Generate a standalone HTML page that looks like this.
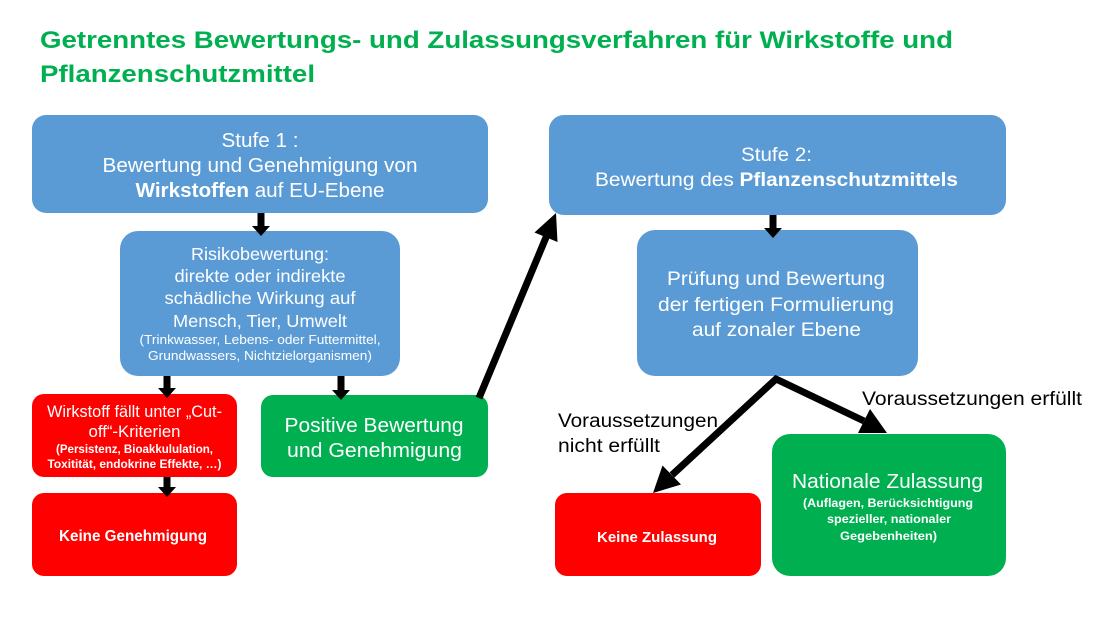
<!DOCTYPE html>
<html><head><meta charset="utf-8"><style>
html,body{margin:0;padding:0;background:#fff;}
svg{display:block;}
text{font-family:"Liberation Sans",Arial,sans-serif;}
.w{fill:#fff;}
.b{font-weight:bold;}
</style></head><body>
<svg width="1110" height="625" viewBox="0 0 1110 625" xmlns="http://www.w3.org/2000/svg">
<rect width="1110" height="625" fill="#fff"/>
<!-- Title -->
<text x="40" y="48" font-size="24" font-weight="bold" fill="#00B050" textLength="913" lengthAdjust="spacingAndGlyphs">Getrenntes Bewertungs- und Zulassungsverfahren für Wirkstoffe und</text>
<text x="40" y="82" font-size="24" font-weight="bold" fill="#00B050" textLength="275" lengthAdjust="spacingAndGlyphs">Pflanzenschutzmittel</text>

<!-- Boxes -->
<rect x="32" y="115" width="456" height="98" rx="14" fill="#5B9BD5"/>
<rect x="120" y="231" width="280" height="145" rx="18" fill="#5B9BD5"/>
<rect x="32" y="394" width="205" height="83" rx="12" fill="#FF0000"/>
<rect x="261" y="395" width="227" height="82" rx="12" fill="#00B050"/>
<rect x="32" y="493" width="205" height="83" rx="12" fill="#FF0000"/>
<rect x="549" y="115" width="457" height="100" rx="15" fill="#5B9BD5"/>
<rect x="637" y="230" width="281" height="146" rx="18" fill="#5B9BD5"/>
<rect x="555" y="493" width="206" height="83" rx="12" fill="#FF0000"/>
<rect x="772" y="434" width="234" height="142" rx="18" fill="#00B050"/>

<!-- Small down arrows -->
<g fill="#000">
<polygon points="257.5,213 264.5,213 264.5,226 270,226 261,236 252,226 257.5,226"/>
<polygon points="769.5,215 776.5,215 776.5,228 782,228 773,238 764,228 769.5,228"/>
<polygon points="163.5,376 170.5,376 170.5,388 176,388 167,398 158,388 163.5,388"/>
<polygon points="337.5,376 344.5,376 344.5,390 350,390 341,400 332,390 337.5,390"/>
<polygon points="163.5,477 170.5,477 170.5,487 176,487 167,497 158,487 163.5,487"/>
</g>

<!-- Diagonal arrow -->
<line x1="479" y1="398" x2="547" y2="235" stroke="#000" stroke-width="7"/>
<polygon points="556,213 557.5,242 534.5,232.5" fill="#000"/>

<!-- Fork arrows -->
<polyline points="672,475 776,379 864,421" fill="none" stroke="#000" stroke-width="7" stroke-linejoin="miter"/>
<polygon points="653,493 681,484.5 662.5,465.5" fill="#000"/>
<polygon points="887,433 858,433 870,409" fill="#000"/>

<!-- Stufe 1 text -->
<text class="w" x="260" y="147" font-size="20" text-anchor="middle" textLength="77" lengthAdjust="spacingAndGlyphs">Stufe 1 :</text>
<text class="w" x="260" y="172" font-size="20" text-anchor="middle" textLength="315" lengthAdjust="spacingAndGlyphs">Bewertung und Genehmigung von</text>
<text class="w" x="260" y="197" font-size="20" text-anchor="middle" textLength="249" lengthAdjust="spacingAndGlyphs"><tspan class="b">Wirkstoffen</tspan> auf EU-Ebene</text>

<!-- Risiko text -->
<text class="w" x="260" y="260" font-size="17.5" text-anchor="middle" textLength="138" lengthAdjust="spacingAndGlyphs">Risikobewertung:</text>
<text class="w" x="260" y="282" font-size="17.5" text-anchor="middle" textLength="171" lengthAdjust="spacingAndGlyphs">direkte oder indirekte</text>
<text class="w" x="260" y="304" font-size="17.5" text-anchor="middle" textLength="191" lengthAdjust="spacingAndGlyphs">schädliche Wirkung auf</text>
<text class="w" x="260" y="327" font-size="17.5" text-anchor="middle" textLength="174" lengthAdjust="spacingAndGlyphs">Mensch, Tier, Umwelt</text>
<text class="w" x="260" y="344" font-size="13" text-anchor="middle" textLength="241" lengthAdjust="spacingAndGlyphs">(Trinkwasser, Lebens- oder Futtermittel,</text>
<text class="w" x="260" y="360" font-size="13" text-anchor="middle" textLength="224" lengthAdjust="spacingAndGlyphs">Grundwassers, Nichtzielorganismen)</text>

<!-- Red 1 text -->
<text class="w" x="134.5" y="417" font-size="16.5" text-anchor="middle" textLength="175" lengthAdjust="spacingAndGlyphs">Wirkstoff fällt unter „Cut-</text>
<text class="w" x="134.5" y="437" font-size="16.5" text-anchor="middle" textLength="92" lengthAdjust="spacingAndGlyphs">off“-Kriterien</text>
<text class="w b" x="134.5" y="453" font-size="12" text-anchor="middle" textLength="157" lengthAdjust="spacingAndGlyphs">(Persistenz, Bioakkululation,</text>
<text class="w b" x="134.5" y="468" font-size="12" text-anchor="middle" textLength="174" lengthAdjust="spacingAndGlyphs">Toxitität, endokrine Effekte, …)</text>

<!-- Keine Genehmigung -->
<text class="w b" x="133" y="541" font-size="15.5" text-anchor="middle" textLength="148" lengthAdjust="spacingAndGlyphs">Keine Genehmigung</text>

<!-- Positive -->
<text class="w" x="374" y="432" font-size="20" text-anchor="middle" textLength="179" lengthAdjust="spacingAndGlyphs">Positive Bewertung</text>
<text class="w" x="374.5" y="457" font-size="20" text-anchor="middle" textLength="175" lengthAdjust="spacingAndGlyphs">und Genehmigung</text>

<!-- Stufe 2 -->
<text class="w" x="776.5" y="161" font-size="19.5" text-anchor="middle" textLength="71" lengthAdjust="spacingAndGlyphs">Stufe 2:</text>
<text class="w" x="776.5" y="186" font-size="19.5" text-anchor="middle" textLength="363" lengthAdjust="spacingAndGlyphs">Bewertung des <tspan class="b">Pflanzenschutzmittels</tspan></text>

<!-- Prüfung -->
<text class="w" x="776" y="285" font-size="19.5" text-anchor="middle" textLength="218" lengthAdjust="spacingAndGlyphs">Prüfung und Bewertung</text>
<text class="w" x="776" y="311" font-size="19.5" text-anchor="middle" textLength="236" lengthAdjust="spacingAndGlyphs">der fertigen Formulierung</text>
<text class="w" x="776.5" y="336" font-size="19.5" text-anchor="middle" textLength="169" lengthAdjust="spacingAndGlyphs">auf zonaler Ebene</text>

<!-- Keine Zulassung -->
<text class="w b" x="657" y="542" font-size="15" text-anchor="middle" textLength="120" lengthAdjust="spacingAndGlyphs">Keine Zulassung</text>

<!-- Nationale -->
<text class="w" x="887.5" y="488" font-size="20.5" text-anchor="middle" textLength="191" lengthAdjust="spacingAndGlyphs">Nationale Zulassung</text>
<text class="w b" x="888" y="507" font-size="12" text-anchor="middle" textLength="170" lengthAdjust="spacingAndGlyphs">(Auflagen, Berücksichtigung</text>
<text class="w b" x="889" y="523" font-size="12" text-anchor="middle" textLength="124" lengthAdjust="spacingAndGlyphs">spezieller, nationaler</text>
<text class="w b" x="888.5" y="540" font-size="12" text-anchor="middle" textLength="97" lengthAdjust="spacingAndGlyphs">Gegebenheiten)</text>

<!-- Labels -->
<text x="558" y="427" font-size="19" fill="#000" textLength="160" lengthAdjust="spacingAndGlyphs">Voraussetzungen</text>
<text x="558" y="452" font-size="19" fill="#000" textLength="102" lengthAdjust="spacingAndGlyphs">nicht erfüllt</text>
<text x="862" y="405" font-size="19.5" fill="#000" textLength="220" lengthAdjust="spacingAndGlyphs">Voraussetzungen erfüllt</text>
</svg>
</body></html>
